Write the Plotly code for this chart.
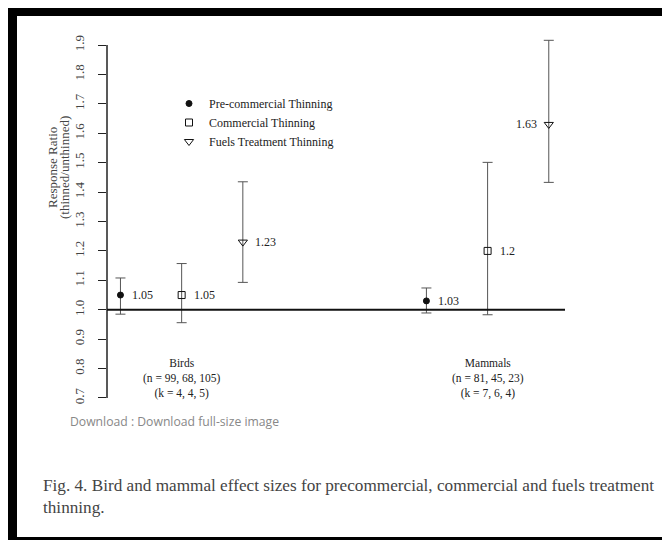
import plotly.graph_objects as go

# ---- data ----
groups = ["Birds", "Mammals"]
group_labels = ["Birds<br>(n = 99, 68, 105)<br>(k = 4, 4, 5)",
                "Mammals<br>(n = 81, 45, 23)<br>(k = 7, 6, 4)"]
treatments = ["Pre-commercial Thinning", "Commercial Thinning", "Fuels Treatment Thinning"]
offsets = [-0.2, 0.0, 0.2]
# values per treatment: [Birds, Mammals]
means = {
    "Pre-commercial Thinning": [1.05, 1.03],
    "Commercial Thinning": [1.05, 1.20],
    "Fuels Treatment Thinning": [1.23, 1.63],
}
upper = {
    "Pre-commercial Thinning": [1.108, 1.074],
    "Commercial Thinning": [1.157, 1.501],
    "Fuels Treatment Thinning": [1.435, 1.916],
}
lower = {
    "Pre-commercial Thinning": [0.985, 0.989],
    "Commercial Thinning": [0.956, 0.983],
    "Fuels Treatment Thinning": [1.093, 1.433],
}
value_labels = {
    "Pre-commercial Thinning": ["1.05", "1.03"],
    "Commercial Thinning": ["1.05", "1.2"],
    "Fuels Treatment Thinning": ["1.23", "1.63"],
}
symbols = ["circle", "square-open", "triangle-down-open"]
marker_sizes = [6, 7, 8]
y_ticks = [0.7, 0.8, 0.9, 1.0, 1.1, 1.2, 1.3, 1.4, 1.5, 1.6, 1.7, 1.8, 1.9]
ref_value = 1.0

# ---- layout geometry (screen coords offset by 8px body margin) ----
OFF = 8
W, H = 662, 532
L, R, T, B = 99, 105, 27, 132
PW, PH = W - L - R, H - T - B


def px(x):
    return (x - OFF - L) / PW


def py(y):
    return (H - B - (y - OFF)) / PH


SERIF = "Liberation Serif"
fig = go.Figure()

for i, t in enumerate(treatments):
    xs = [g + 1 + offsets[i] for g in range(len(groups))]
    m = means[t]
    fig.add_trace(go.Scatter(
        x=xs, y=m, mode="markers", name=t,
        marker=dict(symbol=symbols[i], size=marker_sizes[i], color="#111",
                    line=dict(color="#111", width=1)),
        error_y=dict(type="data", symmetric=False,
                     array=[u - v for u, v in zip(upper[t], m)],
                     arrayminus=[v - l for l, v in zip(lower[t], m)],
                     color="#555", thickness=1, width=5),
        cliponaxis=False,
    ))
    for j, x in enumerate(xs):
        left = (i == 2 and j == 1)
        fig.add_annotation(x=x, y=m[j], text=value_labels[t][j], showarrow=False,
                           xanchor="right" if left else "left",
                           xshift=-10 if left else 10,
                           font=dict(family=SERIF, size=12, color="#222"))

for g, lab in enumerate(group_labels):
    fig.add_annotation(x=g + 1, y=py(378), yref="paper", text=lab, showarrow=False,
                       font=dict(family=SERIF, size=11.5, color="#222"),
                       align="center", xanchor="center", yanchor="middle")

shapes = [
    # white interior inside black frame
    dict(type="rect", xref="paper", yref="paper", x0=px(17), x1=px(665), y0=py(16), y1=py(537),
         fillcolor="white", line=dict(width=0), layer="below"),
    # y axis line
    dict(type="line", xref="paper", yref="y", x0=0, x1=0, y0=y_ticks[0], y1=y_ticks[-1],
         line=dict(color="#222", width=1.5)),
    # reference line
    dict(type="line", xref="paper", yref="y", x0=0, x1=1, y0=ref_value, y1=ref_value,
         line=dict(color="#111", width=2)),
]

fig.add_annotation(x=px(52), y=py(168), xref="paper", yref="paper", showarrow=False,
                   text="Response Ratio", textangle=-90, xanchor="center", yanchor="middle",
                   font=dict(family=SERIF, size=13, color="#444"))
fig.add_annotation(x=px(64), y=py(168), xref="paper", yref="paper", showarrow=False,
                   text="(thinned/unthinned)", textangle=-90, xanchor="center", yanchor="middle",
                   font=dict(family=SERIF, size=13, color="#444"))

fig.add_annotation(x=px(68), y=py(432), xref="paper", yref="paper", showarrow=False,
                   xanchor="left", text="Download : Download full-size image",
                   font=dict(family="Open Sans", size=12.2, color="#888"))
fig.add_annotation(x=px(41), y=py(497), xref="paper", yref="paper", showarrow=False,
                   xanchor="left",
                   text="Fig. 4. Bird and mammal effect sizes for precommercial, commercial and fuels treatment",
                   font=dict(family=SERIF, size=17.2, color="#444"))
fig.add_annotation(x=px(41), y=py(519), xref="paper", yref="paper", showarrow=False,
                   xanchor="left", text="thinning.",
                   font=dict(family=SERIF, size=17.2, color="#444"))

fig.update_layout(
    width=W, height=H, margin=dict(l=L, r=R, t=T, b=B),
    paper_bgcolor="black", plot_bgcolor="rgba(0,0,0,0)",
    shapes=shapes,
    showlegend=True,
    legend=dict(x=px(169), y=py(89), xanchor="left", yanchor="top",
                bgcolor="rgba(0,0,0,0)", font=dict(family=SERIF, size=12, color="#222"),
                tracegroupgap=0),
    xaxis=dict(visible=False, range=[0.756, 2.253]),
    yaxis=dict(range=[0.7 - 10 / 294, 1.9 + 10 / 294], tickvals=y_ticks,
               ticktext=[f"{v:.1f}" for v in y_ticks], tickangle=-90,
               ticks="outside", ticklen=8, tickwidth=1, tickcolor="#222",
               ticklabelstandoff=9,
               showline=False, showgrid=False, zeroline=False,
               tickfont=dict(family=SERIF, size=13, color="#444")),
)

fig.write_html("out.html")
